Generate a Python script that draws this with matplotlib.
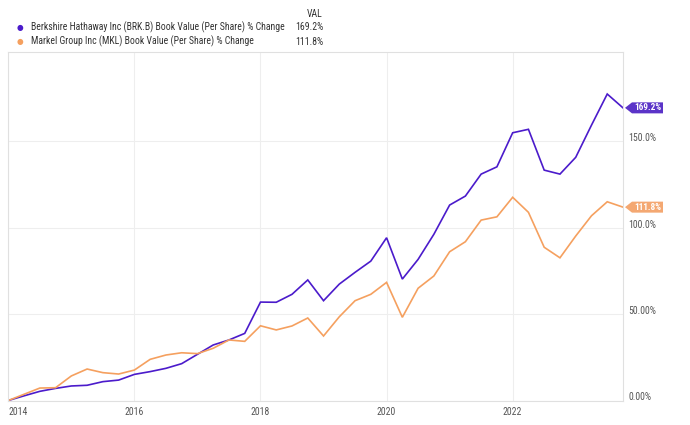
import numpy as np
import matplotlib
matplotlib.use("Agg")
import matplotlib.pyplot as plt
from matplotlib import font_manager
from matplotlib.patches import Polygon

available = {f.name for f in font_manager.fontManager.ttflist}
cond = None
for cand in ["Roboto Condensed", "Liberation Sans Narrow", "DejaVu Sans Condensed"]:
    if cand in available:
        cond = cand
        break
if cond:
    plt.rcParams['font.family'] = [cond, 'DejaVu Sans']
    scale = 1.0
else:
    plt.rcParams['font.family'] = ['Roboto', 'DejaVu Sans']
    scale = 0.82

# quarterly book value per share, % change since start of 2014
quarters = 2014 + 0.25 * np.arange(40)
brk = [0.0, 2.7, 5.3, 7.0, 8.4, 8.8, 10.9, 11.8, 15.1, 16.7,
       18.6, 21.3, 26.7, 32.1, 35.0, 38.8, 56.9, 56.8, 61.4, 69.7,
       57.7, 67.3, 74.1, 80.6, 94.1, 70.2, 81.6, 96.1, 113.0, 118.2,
       130.9, 135.1, 154.8, 156.8, 133.2, 130.9, 140.6, 159.2, 177.2, 169.2]
mkl = [0.0, 3.6, 7.2, 7.4, 14.2, 18.2, 16.1, 15.3, 17.6, 23.8,
       26.3, 27.6, 27.1, 30.2, 35.0, 34.2, 43.2, 40.8, 43.1, 47.7,
       37.3, 48.4, 57.7, 61.4, 68.3, 48.1, 64.9, 72.0, 86.0, 91.8,
       104.3, 106.2, 117.5, 108.8, 88.6, 82.5, 95.1, 106.8, 114.9, 111.8]
names = ["Berkshire Hathaway Inc (BRK.B) Book Value (Per Share) % Change",
         "Markel Group Inc (MKL) Book Value (Per Share) % Change"]
year_ticks = [2014, 2016, 2018, 2020, 2022]
pct_ticks = [0, 50, 100, 150]
pct_labels = ["0.00%", "50.00%", "100.0%", "150.0%"]

line_colors = ["#4b1bcb", "#f5a05f"]
tag_colors = ["#5b34c8", "#f4a872"]
grid_c = "#eeeeee"
fs = 7.0 * scale

fig = plt.figure(figsize=(6.9, 4.25), dpi=100)
ax = fig.add_axes([8.3 / 690, 24.5 / 425, (623 - 8.3) / 690, (400.5 - 52) / 425])

for series, c in zip([brk, mkl], line_colors):
    ax.plot(quarters, series, color=c, lw=1.2, solid_joinstyle='miter')

ax.set_xlim(quarters[0], quarters[-1])
ax.set_ylim(0, 201.5)
ax.set_xticks(year_ticks)
ax.set_xticklabels([str(y) for y in year_ticks])
ax.set_yticks(pct_ticks)
ax.set_yticklabels(pct_labels)
ax.yaxis.tick_right()
ax.tick_params(axis='both', length=0, labelsize=fs, labelcolor="#555555")
ax.tick_params(axis='y', pad=4)
ax.tick_params(axis='x', pad=5)
for t in ax.get_yticklabels():
    t.set_va('baseline')
ax.get_xticklabels()[0].set_ha('left')
ax.grid(True, color=grid_c, lw=0.8)
ax.set_axisbelow(True)
for s in ax.spines.values():
    s.set_color("#e0e0e0")
    s.set_linewidth(0.8)

# value tags on the right edge
fig.canvas.draw()
for series, c in zip([brk, mkl], tag_colors):
    v = series[-1]
    px, py = ax.transData.transform((quarters[-1], v))
    tip = px + 2
    h = 5.5
    w = 31
    poly = Polygon([(tip, py), (tip + 7, py + h), (tip + 7 + w, py + h),
                    (tip + 7 + w, py - h), (tip + 7, py - h)],
                   closed=True, transform=None, facecolor=c, edgecolor='none')
    fig.add_artist(poly)
    fig.text((tip + 7 + w / 2) / 690, py / 425, f"{v:.1f}%", color="white",
             fontsize=6.6 * scale, fontweight='bold', ha='center', va='center')

# legend block
fig.text(323 / 690, 1 - 14 / 425, "VAL", fontsize=fs, color="#333333",
         ha='right', va='center')
rows = [27.5, 41.7]
for name, series, c, yy in zip(names, [brk, mkl], line_colors, rows):
    fig.text(20 / 690, 1 - yy / 425, "\u25cf", fontsize=5.5, color=c,
             ha='center', va='center', family='DejaVu Sans')
    fig.text(31 / 690, 1 - yy / 425, name, fontsize=fs, color="#333333",
             ha='left', va='center')
    fig.text(323 / 690, 1 - yy / 425, f"{series[-1]:.1f}%", fontsize=fs,
             color="#333333", ha='right', va='center')

fig.savefig("out.png", dpi=100)
